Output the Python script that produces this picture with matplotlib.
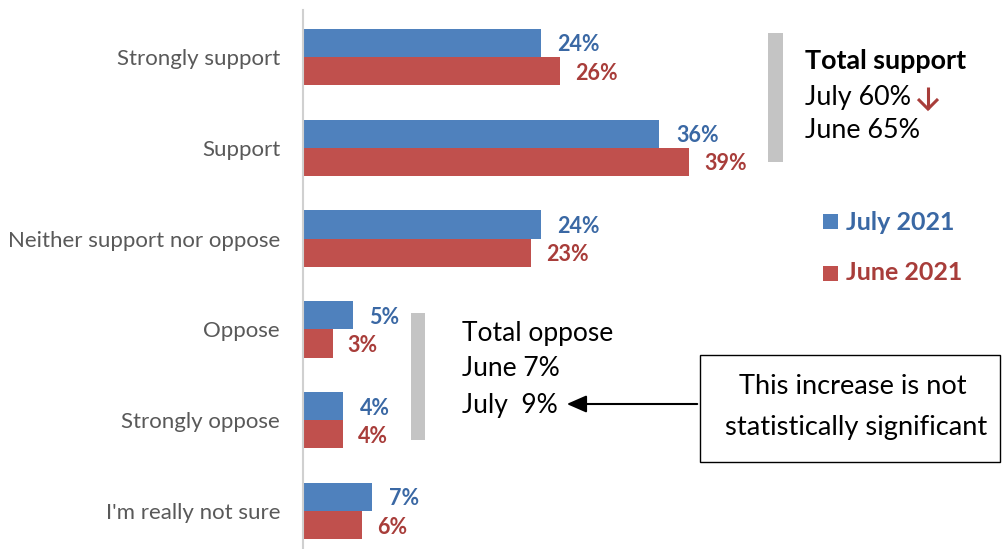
import matplotlib
matplotlib.use("Agg")
import matplotlib.pyplot as plt
from matplotlib.patches import Rectangle, FancyArrowPatch
from matplotlib.lines import Line2D

categories = ["Strongly support", "Support", "Neither support nor oppose",
              "Oppose", "Strongly oppose", "I'm really not sure"]
july_2021 = [24, 36, 24, 5, 4, 7]
june_2021 = [26, 39, 23, 3, 4, 6]
series_names = ["July 2021", "June 2021"]

BLUE = "#4F81BD"
RED = "#C0504D"
BLUE_T = "#3A68A4"
RED_T = "#A83D3A"
GREY_T = "#595959"
FONT = "Lato"

W, H = 1002, 549
fig = plt.figure(figsize=(W / 100, H / 100), dpi=100)
ax = fig.add_axes([303 / W, 0, (W - 303) / W, 539 / H])

n = len(categories)
bh = 0.31
ys = list(range(n))
ax.barh([y - bh / 2 for y in ys], july_2021, height=bh, color=BLUE, label=series_names[0])
ax.barh([y + bh / 2 for y in ys], june_2021, height=bh, color=RED, label=series_names[1])
ax.set_xlim(0, (W - 303) / 9.9)
ax.set_ylim(5.418, -0.518)

for y, v in zip(ys, july_2021):
    ax.annotate(f"{v}%", (v, y - bh / 2), xytext=(17, -2), textcoords="offset pixels",
                va="center", ha="left", color=BLUE_T, fontsize=15.5,
                fontweight="bold", family=FONT)
for y, v in zip(ys, june_2021):
    ax.annotate(f"{v}%", (v, y + bh / 2), xytext=(15, -2), textcoords="offset pixels",
                va="center", ha="left", color=RED_T, fontsize=15.5,
                fontweight="bold", family=FONT)

ax.set_yticks(ys)
ax.set_yticklabels(categories, fontsize=16, color=GREY_T, family=FONT)
ax.tick_params(axis="y", length=0, pad=16.5)
ax.set_xticks([])
for s in ["top", "right", "bottom"]:
    ax.spines[s].set_visible(False)
ax.spines["left"].set_color("#D0D0D0")
ax.spines["left"].set_linewidth(1.5)


def P(x, y):
    return (x / W, 1 - y / H)


# grey brackets
fig.patches.append(Rectangle(P(768, 162), 15 / W, 129 / H, transform=fig.transFigure,
                             facecolor="#C4C4C4", edgecolor="none"))
fig.patches.append(Rectangle(P(411, 440), 14 / W, 127 / H, transform=fig.transFigure,
                             facecolor="#C4C4C4", edgecolor="none"))

# total support
fig.text(*P(805, 61), "Total support", fontsize=19.4, fontweight="bold", color="black",
         family=FONT, va="center", ha="left")
fig.text(*P(805, 98), "July 60%", fontsize=19.4, color="black", family=FONT,
         va="center", ha="left")
# red down arrow
for xs_, ys_ in [([928, 928], [87, 109]), ([918, 928, 938], [99, 109, 99])]:
    x0 = [x / W for x in xs_]
    y0 = [1 - y / H for y in ys_]
    fig.lines.append(Line2D(x0, y0, transform=fig.transFigure, color=RED_T,
                            linewidth=2.2, solid_capstyle="butt", solid_joinstyle="miter"))
fig.text(*P(805, 131), "June 65%", fontsize=19.4, color="black", family=FONT,
         va="center", ha="left")

# legend
fig.patches.append(Rectangle(P(823, 229), 15 / W, 15 / H, transform=fig.transFigure,
                             facecolor=BLUE, edgecolor="none"))
fig.text(*P(846, 222), series_names[0], fontsize=18, fontweight="bold", color=BLUE_T,
         family=FONT, va="center", ha="left")
fig.patches.append(Rectangle(P(823, 281), 15 / W, 15 / H, transform=fig.transFigure,
                             facecolor=RED, edgecolor="none"))
fig.text(*P(846, 273), series_names[1], fontsize=18, fontweight="bold", color=RED_T,
         family=FONT, va="center", ha="left")

# total oppose
fig.text(*P(462, 333), "Total oppose", fontsize=19, color="black", family=FONT,
         va="center", ha="left")
fig.text(*P(462, 369), "June 7%", fontsize=19, color="black", family=FONT,
         va="center", ha="left")
fig.text(*P(462, 406), "July  9%", fontsize=19, color="black", family=FONT,
         va="center", ha="left")

# box
fig.patches.append(Rectangle(P(700, 462), 300 / W, 107 / H, transform=fig.transFigure,
                             facecolor="white", edgecolor="black", linewidth=1))
fig.text(*P(853, 386), "This increase is not", fontsize=19.6, color="black", family=FONT,
         va="center", ha="center")
fig.text(*P(856, 427), "statistically significant", fontsize=19.6, color="black",
         family=FONT, va="center", ha="center")
fig.patches.append(FancyArrowPatch(P(700, 404), P(564, 404), transform=fig.transFigure,
                                   arrowstyle="-|>,head_length=0.8,head_width=0.35",
                                   color="black", linewidth=1.5, mutation_scale=15))

fig.savefig("out.png", dpi=100)
